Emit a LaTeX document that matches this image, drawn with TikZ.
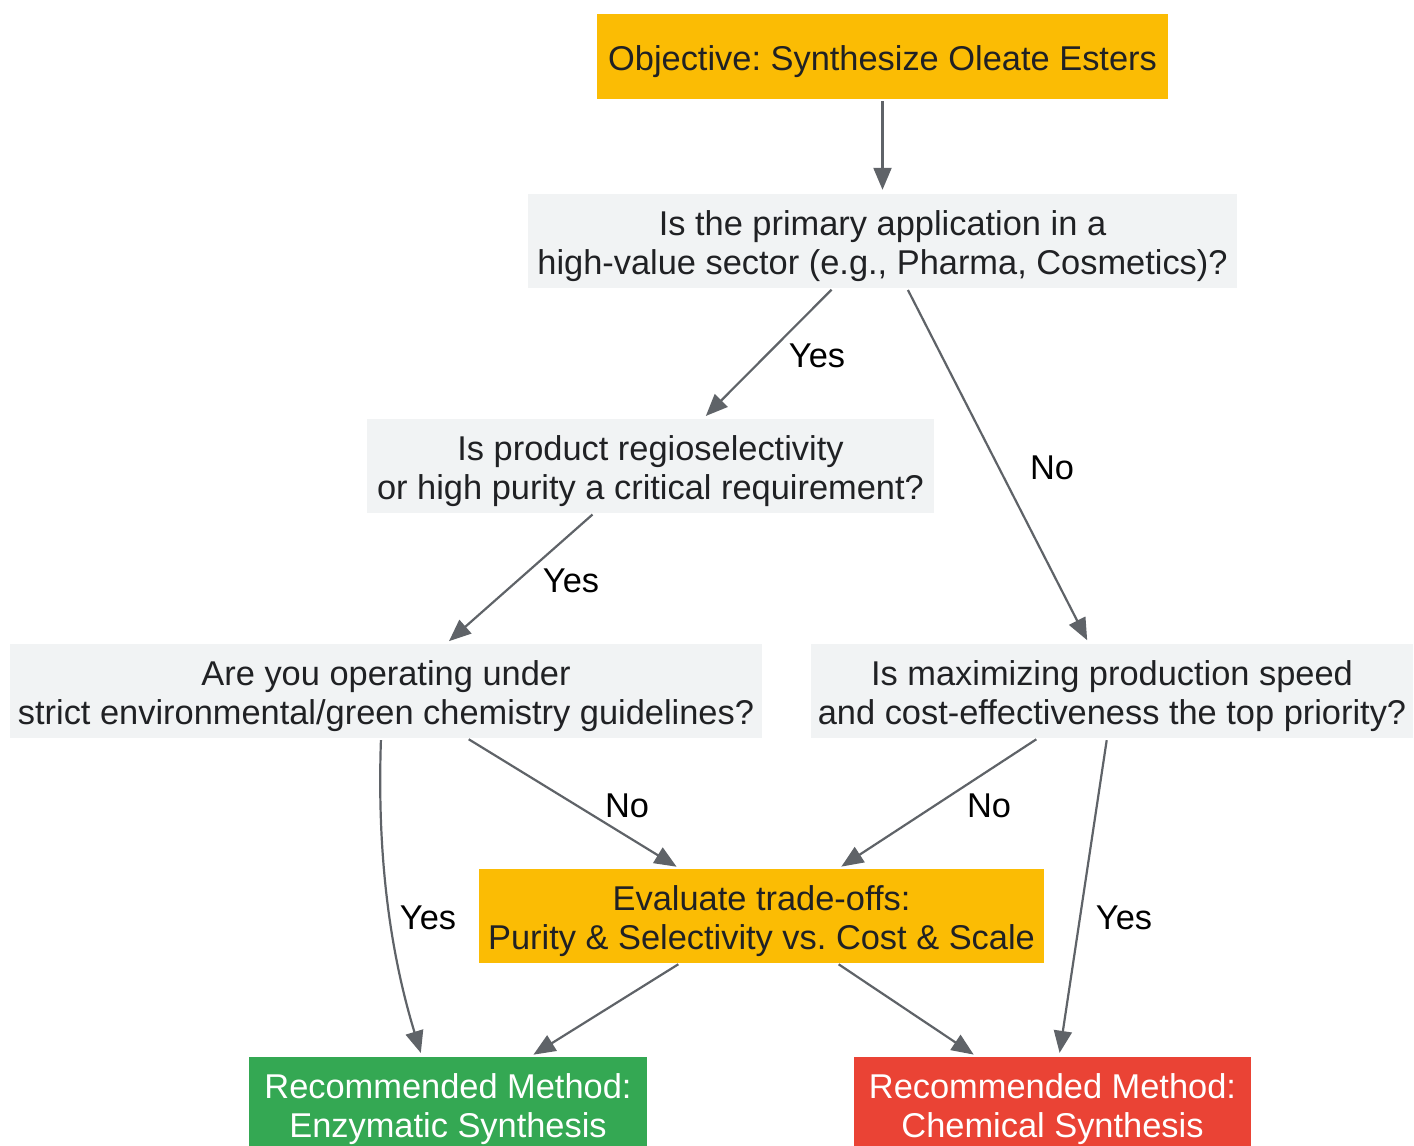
\documentclass[tikz,border=0pt]{standalone}
\usepackage{fontspec}
\setmainfont{Liberation Sans}
\usetikzlibrary{arrows.meta,calc}
\definecolor{gbox}{HTML}{F1F3F4}
\definecolor{ybox}{HTML}{FBBC04}
\definecolor{grn}{HTML}{34A853}
\definecolor{rd}{HTML}{EA4335}
\definecolor{txt}{HTML}{202124}
\definecolor{edge}{HTML}{5F6368}
\frenchspacing

\begin{document}
\begin{tikzpicture}
[x=1pt, y=-1pt,
 every node/.style={inner sep=0pt, font=\fontsize{34.4}{39}\selectfont, align=center},
 box/.style={rectangle, minimum height=94pt, text=txt, execute at begin node={\rule{0pt}{#1}}},
 box/.default=74pt,
 link/.style={line width=2.2pt, draw=edge, -{Triangle[length=22pt, width=18pt]}, shorten <=2pt, shorten >=4pt}]
\useasboundingbox (0,0) rectangle (1414,1146);
\node (obj) [box=35pt, fill=ybox, minimum width=571pt, minimum height=85pt] at (882.5, 56.5) {Objective: Synthesize Oleate Esters};
\node (q1) [box, fill=gbox, minimum width=709pt] at (882.5, 241) {Is the primary application in a\\high-value sector (e.g., Pharma, Cosmetics)?};
\node (q2) [box, fill=gbox, minimum width=567pt] at (650.5, 466) {Is product regioselectivity\\or high purity a critical requirement?};
\node (q3) [box, fill=gbox, minimum width=752pt] at (386, 691) {Are you operating under\\strict environmental/green chemistry guidelines?};
\node (q4) [box, fill=gbox, minimum width=602pt] at (1112, 691) {Is maximizing production speed\\and cost-effectiveness the top priority?};
\node (tr) [box, fill=ybox, minimum width=565pt] at (761.5, 916) {Evaluate trade-offs:\\Purity \& Selectivity vs. Cost \& Scale};
\node (enz) [box, fill=grn, text=white, minimum width=398pt] at (448, 1104) {Recommended Method:\\Enzymatic Synthesis};
\node (chem) [box, fill=rd, text=white, minimum width=397pt] at (1052.5, 1104) {Recommended Method:\\Chemical Synthesis};
\draw [link] (obj.south) to (q1.north);
\draw [link] ($(q1.south)+(-49.5,0)$) to ($(q2.north)+(52.5,0)$);
\draw [link] ($(q1.south)+(24.5,0)$) to ($(q4.north)+(-23,0)$);
\draw [link] ($(q2.south)+(-56.5,0)$) to ($(q3.north)+(60,0)$);
\draw [link] ($(q3.south)+(-5,0)$) to [out=-92, in=107, looseness=0.9] ($(enz.north)+(-26,0)$);
\draw [link] ($(q3.south)+(81,0)$) to ($(tr.north)+(-81.5,0)$);
\draw [link] ($(q4.south)+(-74,0)$) to ($(tr.north)+(76.5,0)$);
\draw [link] ($(q4.south)+(-5,0)$) to ($(chem.north)+(6.5,0)$);
\draw [link] ($(tr.south)+(-81.5,0)$) to ($(enz.north)+(82,0)$);
\draw [link] ($(tr.south)+(75.5,0)$) to ($(chem.north)+(-75.5,0)$);
\node (l1) at (817, 356) {Yes};
\node (l2) at (1052, 468) {No};
\node (l3) at (571, 581) {Yes};
\node (l4) at (428, 918) {Yes};
\node (l5) at (627, 806) {No};
\node (l6) at (989, 806) {No};
\node (l7) at (1124, 918) {Yes};
\end{tikzpicture}
\end{document}
